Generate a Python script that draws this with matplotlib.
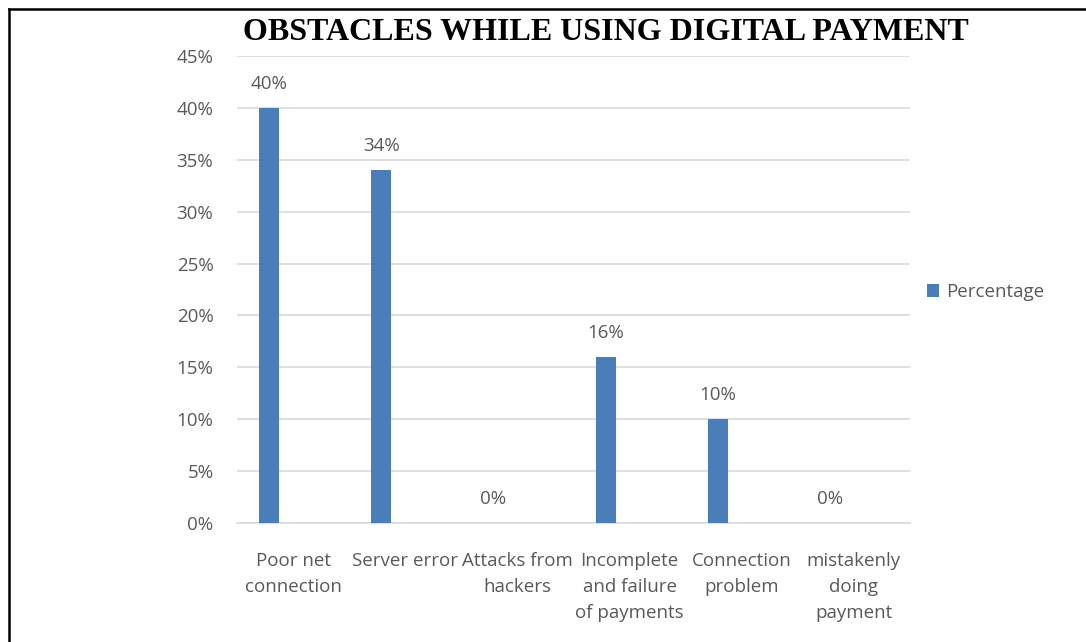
import matplotlib
matplotlib.use('Agg')
import matplotlib.pyplot as plt
from matplotlib.lines import Line2D
from matplotlib.ticker import FuncFormatter, MultipleLocator

# obstacle categories and share of respondents
categories = ['Poor net\nconnection', 'Server error', 'Attacks from\nhackers',
              'Incomplete\nand failure\nof payments', 'Connection\nproblem',
              'mistakenly\ndoing\npayment']
percentage = [0.40, 0.34, 0.00, 0.16, 0.10, 0.00]
value_labels = ['40%', '34%', '0%', '16%', '10%', '0%']

bar_color = '#4A7EBB'
text_color = '#595959'
grid_color = '#D9D9D9'
font = 'Open Sans'
fsize = 13.5

fig = plt.figure(figsize=(10.86, 6.42), dpi=100)
ax = fig.add_axes([237 / 1086, 1 - 523 / 642, (910 - 237) / 1086, (523 - 56) / 642])

xs = list(range(len(categories)))
bar_x = [x - 0.214 for x in xs]
bars = ax.bar(bar_x, percentage, width=0.178, color=bar_color, label='Percentage', zorder=3)

for bx, val, lab in zip(bar_x, percentage, value_labels):
    ax.annotate(lab, (bx, val), xytext=(0, 11), textcoords='offset points',
                ha='center', va='bottom', fontsize=fsize, color=text_color, family=font)

ax.set_xlim(-0.5, len(categories) - 0.5)
ax.set_ylim(0, 0.45)
ax.yaxis.set_major_locator(MultipleLocator(0.05))
ax.yaxis.set_major_formatter(FuncFormatter(lambda v, p: '{:.0f}%'.format(v * 100)))
ax.grid(axis='y', color=grid_color, linewidth=1.2, zorder=0)
ax.set_axisbelow(True)

ax.set_xticks(xs)
ax.set_xticklabels(categories, linespacing=1.55)
for spine in ['top', 'right', 'left']:
    ax.spines[spine].set_visible(False)
ax.spines['bottom'].set_color(grid_color)
ax.spines['bottom'].set_linewidth(1.2)
ax.tick_params(axis='y', length=0, pad=17, labelsize=fsize, labelcolor=text_color)
ax.tick_params(axis='x', length=0, pad=21, labelsize=fsize, labelcolor=text_color)
for t in ax.get_xticklabels() + ax.get_yticklabels():
    t.set_family(font)

fig.text(606 / 1086, 1 - 32 / 642, 'OBSTACLES WHILE USING DIGITAL PAYMENT',
         ha='center', va='center', fontsize=23, fontweight='bold',
         family='Liberation Serif', color='black')

ax.legend(handles=[bars], loc='center left', bbox_to_anchor=(1.0, 0.495),
          frameon=False, handlelength=0.65, handleheight=0.65, handletextpad=0.35,
          prop={'family': font, 'size': fsize}, labelcolor=text_color)

# frame lines along the top and left edge
fig.add_artist(Line2D([8.5 / 1086, 1], [1 - 8.5 / 642, 1 - 8.5 / 642],
                      transform=fig.transFigure, color='black', linewidth=1.8))
fig.add_artist(Line2D([8.5 / 1086, 8.5 / 1086], [0, 1 - 8.5 / 642],
                      transform=fig.transFigure, color='black', linewidth=1.8))

fig.savefig('out.png', dpi=100)
